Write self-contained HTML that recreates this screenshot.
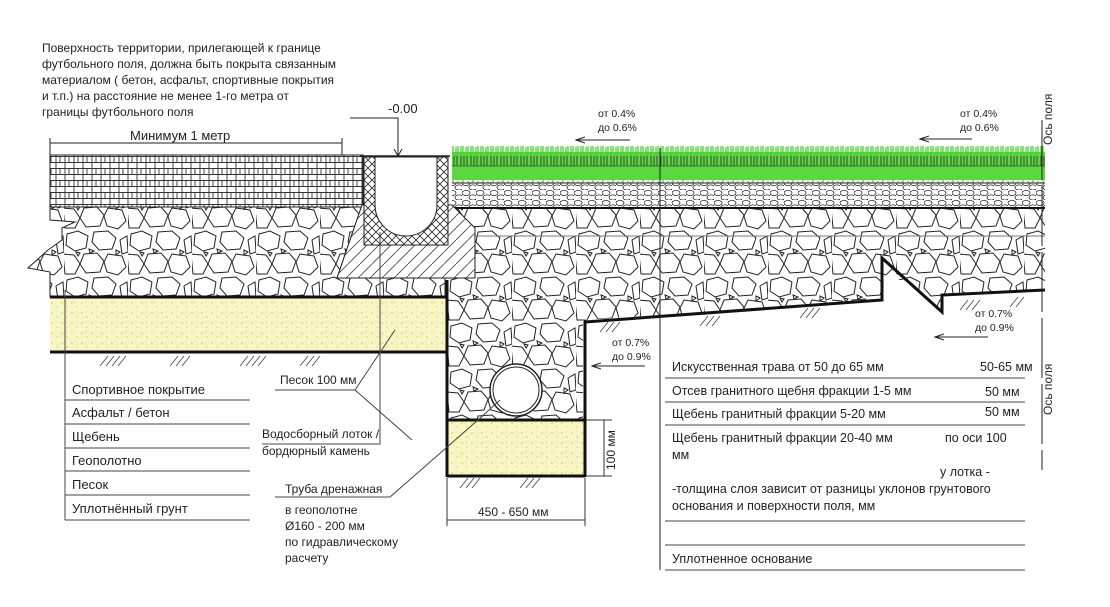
<!DOCTYPE html>
<html><head><meta charset="utf-8"><style>
html,body{margin:0;padding:0;background:#fff;width:1110px;height:607px;overflow:hidden}
svg{display:block}
text{font-family:"Liberation Sans",sans-serif;fill:#222}
</style></head><body>
<svg width="1110" height="607" viewBox="0 0 1110 607" xmlns="http://www.w3.org/2000/svg">
<defs>
<pattern id="stone" width="64" height="46" patternUnits="userSpaceOnUse">
<rect width="64" height="46" fill="#fff"/>
<g fill="#fff" stroke="#222" stroke-width="1">
<path d="M3 4L14 1L24 6L22 18L11 21L2 15Z"/>
<path d="M30 2L44 1L52 8L48 19L35 20L28 12Z"/>
<path d="M56 10L63 6L64 22L58 24Z"/>
<path d="M-1 24L10 25L16 34L11 44L1 44Z"/>
<path d="M20 24L33 23L40 31L36 42L22 43L16 34Z"/>
<path d="M44 24L58 26L62 37L54 45L43 42L40 32Z"/>
<path d="M25 19l5 2l-4 2z"/><path d="M52 20l4 2l-4 3z"/><path d="M12 22l4 1l-2 3z"/>
</g></pattern>
<pattern id="fine" width="14" height="10" patternUnits="userSpaceOnUse">
<rect width="14" height="10" fill="#fff"/>
<g fill="#fff" stroke="#222" stroke-width="0.8"><ellipse cx="4" cy="3" rx="4" ry="2.6"/><ellipse cx="11" cy="7.5" rx="4" ry="2.6"/></g></pattern>
<pattern id="brick" width="9" height="12" patternUnits="userSpaceOnUse">
<rect width="9" height="12" fill="#fff"/>
<path d="M0 0.5H9M2 0V12M6 0V6M0 6.5H9" stroke="#333" stroke-width="0.9"/></pattern>
<pattern id="cross" width="8" height="8" patternUnits="userSpaceOnUse">
<rect width="8" height="8" fill="#fff"/><path d="M0 0L8 8M8 0L0 8" stroke="#333" stroke-width="0.9"/></pattern>
<pattern id="diag" width="12" height="12" patternUnits="userSpaceOnUse">
<rect width="12" height="12" fill="#fff"/><path d="M0 12L12 0" stroke="#444" stroke-width="0.8"/></pattern>
<pattern id="sand" width="10" height="10" patternUnits="userSpaceOnUse">
<rect width="10" height="10" fill="#f7f6c4"/><circle cx="2" cy="3" r="0.9" fill="#d8d860"/><circle cx="7" cy="7" r="0.9" fill="#e0df70"/><circle cx="6" cy="2" r="0.6" fill="#ccc"/></pattern>
<pattern id="grass" width="10" height="36" patternUnits="userSpaceOnUse">
<rect y="8" width="10" height="28" fill="#5bd83f"/>
<path d="M1 2V12M3 0V10M6 3V12M8 1V10" stroke="#3ccf28" stroke-width="1.2"/>
<path d="M1 12V22M4 12V22M7 12V22" stroke="#333" stroke-width="0.9"/>
<path d="M0 22H10" stroke="#333" stroke-width="0.6"/></pattern>
<marker id="arr" markerWidth="10" markerHeight="8" refX="1" refY="4" orient="auto"><path d="M10 1L1 4L10 7" fill="none" stroke="#222"/></marker>
</defs>

<g font-size="12">
<text x="42" y="52">Поверхность территории, прилегающей к границе</text>
<text x="42" y="68">футбольного поля, должна быть покрыта связанным</text>
<text x="42" y="84">материалом  ( бетон, асфальт, спортивные покрытия</text>
<text x="42" y="100">и т.п.)    на расстояние не менее 1-го метра от</text>
<text x="42" y="116">границы футбольного поля</text>
</g>
<line x1="50" y1="143" x2="342" y2="143" stroke="#222"/>
<line x1="50" y1="138" x2="50" y2="155" stroke="#222"/><line x1="342" y1="138" x2="342" y2="155" stroke="#222"/>
<text x="130" y="140" font-size="13">Минимум 1 метр</text>
<text x="388" y="113" font-size="13">-0.00</text>
<path d="M350 118H398V155" fill="none" stroke="#222"/><path d="M394 149L398 156L402 149" fill="none" stroke="#222"/>

<path d="M50 205H362L337 278H445V297H50V272L28 268L48 250L62 240L62 228L75 222L50 220Z" fill="url(#stone)" stroke="#222"/>
<rect x="50" y="155" width="313" height="52" fill="url(#brick)" stroke="#222"/>
<rect x="448" y="205" width="597" height="75" fill="url(#stone)"/>
<path d="M448 280H1045V290L942 295V312L882 258V300L583 320V420H448Z" fill="url(#stone)"/>
<rect x="452" y="183" width="593" height="25" fill="url(#fine)"/>
<rect x="452" y="146" width="593" height="37" fill="url(#grass)"/>
<line x1="452" y1="183" x2="1045" y2="183" stroke="#222"/>
<line x1="452" y1="208" x2="1045" y2="208" stroke="#111" stroke-width="2"/>
<line x1="452" y1="236" x2="1045" y2="236" stroke="#777"/>
<path d="M362 205L337 278H475V228L452 205Z" fill="url(#diag)" stroke="#222"/>
<rect x="364" y="157" width="84" height="88" fill="url(#cross)" stroke="#222"/>
<path d="M375 157V205A31 31 0 0 0 437 205V157Z" fill="#fff" stroke="#222"/>
<line x1="360" y1="156" x2="450" y2="156" stroke="#222" stroke-width="1.5"/>

<rect x="50" y="297" width="396" height="55" fill="url(#sand)"/>
<line x1="50" y1="297" x2="447" y2="297" stroke="#111" stroke-width="3"/>
<line x1="50" y1="352" x2="447" y2="352" stroke="#111" stroke-width="3"/>
<rect x="448" y="420" width="137" height="55" fill="url(#sand)"/>
<line x1="447" y1="280" x2="447" y2="477" stroke="#111" stroke-width="3"/>
<line x1="585" y1="320" x2="585" y2="477" stroke="#111" stroke-width="3"/>
<line x1="447" y1="420" x2="585" y2="420" stroke="#111" stroke-width="3"/>
<line x1="447" y1="476" x2="585" y2="476" stroke="#111" stroke-width="3"/>
<circle cx="516" cy="390" r="26" fill="#fff" stroke="#222" stroke-width="1.5"/><circle cx="516" cy="390" r="23" fill="#fff" stroke="#222"/>
<path d="M585 322L882 300V258L942 312V295L1045 290" fill="none" stroke="#111" stroke-width="3"/>
<line x1="660" y1="148" x2="660" y2="570" stroke="#222"/>
<g stroke="#444" stroke-width="0.8">
<path d="M100 366l8-10M106 366l8-10M112 366l8-10M118 366l8-10M170 366l8-10M176 366l8-10M182 366l8-10M240 366l8-10M246 366l8-10M252 366l8-10M258 366l8-10M300 366l8-10M306 366l8-10M312 366l8-10M460 488l8-10M466 488l8-10M472 488l8-10M520 488l8-10M526 488l8-10M532 488l8-10M600 332l8-10M606 332l8-10M612 332l8-10M700 326l8-10M706 326l8-10M712 326l8-10M800 318l8-10M806 318l8-10M812 318l8-10M960 310l8-10M966 310l8-10M972 310l8-10M1010 307l8-10M1016 307l8-10"/>
</g>
<g font-size="10.5">
<text x="598" y="117">от 0.4%</text><text x="598" y="131">до 0.6%</text>
<text x="960" y="117">от 0.4%</text><text x="960" y="131">до 0.6%</text>
<text x="975" y="317">от 0.7%</text><text x="975" y="331">до 0.9%</text>
<text x="612" y="346">от 0.7%</text><text x="612" y="360">до 0.9%</text>
</g>
<g stroke="#222" marker-start="url(#arr)">
<line x1="576" y1="140" x2="630" y2="140"/><line x1="920" y1="139" x2="972" y2="139"/>
<line x1="935" y1="337" x2="988" y2="337"/><line x1="592" y1="366" x2="645" y2="366"/>
</g>
<line x1="1042" y1="120" x2="1042" y2="470" stroke="#222" stroke-dasharray="60 6"/>
<text transform="translate(1052 145) rotate(-90)" font-size="12">Ось поля</text>
<text transform="translate(1052 415) rotate(-90)" font-size="12">Ось поля</text>

<line x1="65" y1="290" x2="65" y2="520" stroke="#444"/>
<g stroke="#444"><path d="M65 400H250M65 424H250M65 448H250M65 471H250M65 495H250M65 520H250"/></g>
<g font-size="13"><text x="72" y="394">Спортивное покрытие</text><text x="72" y="417">Асфальт / бетон</text><text x="72" y="441">Щебень</text><text x="72" y="465">Геополотно</text><text x="72" y="489">Песок</text><text x="72" y="513">Уплотнённый грунт</text></g>
<g font-size="12">
<text x="280" y="384">Песок 100 мм</text>
<text x="262" y="438">Водосборный лоток /</text><text x="262" y="455">бордюрный камень</text>
<text x="285" y="493">Труба дренажная</text>
<text x="285" y="514">в геополотне</text><text x="285" y="530">Ø160 - 200 мм</text><text x="285" y="546">по гидравлическому</text><text x="285" y="562">расчету</text>
</g>
<g stroke="#444" fill="none">
<path d="M275 390H355L395 330"/><path d="M355 390L412 440"/>
<path d="M262 444H380V232"/>
<path d="M275 497H390L478 420"/><line x1="478" y1="420" x2="500" y2="400"/>
</g>
<line x1="447" y1="520" x2="585" y2="520" stroke="#333"/>
<line x1="447" y1="478" x2="447" y2="526" stroke="#333"/><line x1="585" y1="478" x2="585" y2="526" stroke="#333"/>
<text x="478" y="516" font-size="12">450 - 650 мм</text>
<line x1="604" y1="420" x2="604" y2="476" stroke="#333"/>
<path d="M586 420H612M586 476H612" stroke="#333"/>
<text transform="translate(615 470) rotate(-90)" font-size="12">100 мм</text>

<g stroke="#444"><path d="M665 378H1025M665 402H1025M665 425H1025M665 521H1025M665 545H1025M665 570H1025"/></g>
<g font-size="12.5">
<text x="672" y="371">Искусственная трава от 50 до 65 мм</text><text x="980" y="371">50-65 мм</text>
<text x="672" y="395">Отсев гранитного щебня фракции 1-5 мм</text><text x="985" y="396">50 мм</text>
<text x="672" y="418">Щебень гранитный фракции 5-20 мм</text><text x="985" y="416">50 мм</text>
<text x="672" y="442">Щебень гранитный фракции 20-40 мм</text><text x="945" y="442">по оси  100</text>
<text x="672" y="459">мм</text>
<text x="940" y="476">у лотка -</text>
<text x="672" y="493">-толщина слоя зависит от разницы уклонов грунтового</text>
<text x="672" y="510">основания и поверхности поля, мм</text>
<text x="672" y="563">Уплотненное основание</text>
</g>
</svg>
</body></html>
